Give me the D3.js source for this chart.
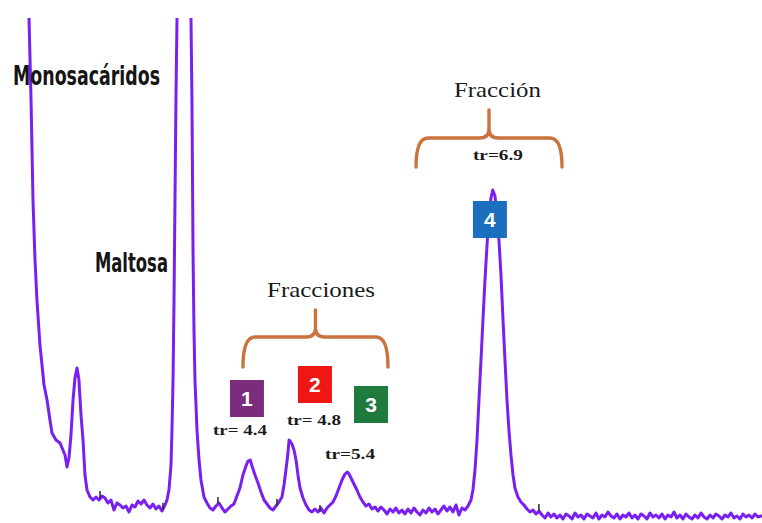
<!DOCTYPE html>
<html>
<head>
<meta charset="utf-8">
<script src="https://cdn.jsdelivr.net/npm/d3@7"></script>
<style>
  html, body { margin: 0; padding: 0; background: #ffffff; }
  svg { display: block; }
</style>
</head>
<body>
<svg id="chart" width="762" height="523"></svg>
<script>
// Chromatogram trace: retention time (min) and detector signal (mV)
const traceTime = [
  2.109, 2.119, 2.140, 2.160, 2.181, 2.201, 2.232, 2.274, 2.305, 2.335, 2.356, 2.397, 2.439, 2.469, 2.490, 2.511,
  2.531, 2.552, 2.573, 2.593, 2.614, 2.634, 2.655, 2.676, 2.696, 2.717, 2.748,
  2.779, 2.810, 2.841, 2.872, 2.902, 2.933, 2.964, 2.995, 3.026, 3.057, 3.088, 3.119, 3.150, 3.181, 3.212, 3.243,
  3.274, 3.305, 3.335, 3.366, 3.397, 3.428, 3.459, 3.490, 3.521,
  3.542, 3.562, 3.583, 3.593, 3.604, 3.614, 3.624, 3.634, 3.645, 3.655,
  3.779, 3.789, 3.799, 3.810, 3.820, 3.830, 3.851, 3.872, 3.892, 3.923, 3.954, 3.985, 4.016, 4.047, 4.078, 4.109,
  4.140, 4.171, 4.201, 4.232, 4.263, 4.294, 4.325, 4.356, 4.377, 4.400, 4.418, 4.449, 4.480, 4.511, 4.542, 4.573,
  4.603, 4.634, 4.665, 4.696, 4.727, 4.748, 4.768, 4.789, 4.800, 4.810, 4.830, 4.851, 4.872, 4.892, 4.913, 4.944,
  4.975, 5.006, 5.036, 5.067, 5.098, 5.129, 5.160, 5.191, 5.222, 5.253, 5.284, 5.315, 5.346, 5.377, 5.400, 5.418,
  5.439, 5.469, 5.500, 5.531, 5.562, 5.593,
  5.624, 5.655, 5.686, 5.717, 5.748, 5.779, 5.810, 5.841, 5.872, 5.902, 5.933, 5.964, 5.995, 6.026, 6.057, 6.088,
  6.119, 6.150, 6.181, 6.212, 6.243, 6.274, 6.305, 6.335, 6.366, 6.397, 6.428, 6.459, 6.490, 6.521, 6.552, 6.583,
  6.614, 6.645,
  6.676, 6.696, 6.717, 6.738, 6.758, 6.779, 6.799, 6.820, 6.841, 6.861, 6.882, 6.900, 6.923, 6.944, 6.964, 6.985,
  7.006, 7.026, 7.047, 7.067, 7.088, 7.109, 7.129, 7.160, 7.191, 7.222, 7.253,
  7.284, 7.315, 7.346, 7.377, 7.408, 7.439, 7.470, 7.500, 7.531, 7.562, 7.593, 7.624, 7.655, 7.686, 7.717, 7.748,
  7.779, 7.810, 7.841, 7.872, 7.903, 7.933, 7.964, 7.995, 8.026, 8.057, 8.088, 8.119, 8.150, 8.181, 8.212, 8.243,
  8.274, 8.305, 8.336, 8.366, 8.397, 8.428, 8.459, 8.490, 8.521, 8.552, 8.583, 8.614, 8.645, 8.676, 8.707, 8.738,
  8.769, 8.799, 8.830, 8.861, 8.892, 8.923, 8.954, 8.985, 9.016, 9.047, 9.078, 9.109, 9.140, 9.171, 9.201, 9.232,
  9.263, 9.294, 9.325, 9.356, 9.387, 9.418, 9.449, 9.480, 9.511, 9.542, 9.573, 9.604, 9.634, 9.665
];

const traceSignal = [
  108, 100.4, 84, 64, 52, 44, 35, 27, 24, 20, 17.4, 16, 15.4, 14, 13, 10.6,
  12.4, 17, 24, 28.4, 30.4, 28, 21, 16, 9, 6, 4.6,
  4, 4.6, 4, 4.8, 4.4, 3.4, 4, 2, 3.4, 3, 2.4, 2.8, 1.6, 3, 2.6, 3.8,
  3.2, 4, 3, 2.4, 3.2, 2.2, 2.8, 1.8, 3,
  4, 6, 11, 18, 28, 44, 64, 84, 100.4, 108,
  108, 100.4, 84, 54, 38, 28, 18, 12, 8, 4.6, 3.4, 2.4, 2, 2.8, 3.4, 2.4,
  1.6, 2.2, 2.8, 3.2, 4.8, 6.4, 9, 10.8, 11.8, 12, 10.8, 9, 7.4, 5.6, 4, 3.2,
  2.4, 2, 2.8, 3.6, 4.6, 7, 10, 13.4, 16, 15.8, 15.2, 14, 12, 9, 6.4, 4.4,
  3, 2, 1.6, 2.2, 1.6, 2.4, 1.4, 2.4, 3, 3.6, 4.8, 6.4, 8, 9.2, 9.6, 9.2,
  8.4, 7.2, 6, 4.6, 3.6, 2.8,
  3.2, 2.2, 2.6, 1.8, 2.6, 2, 1.2, 2.2, 1.6, 2.4, 1.4, 2, 1.2, 2.2, 1.4, 2.4,
  1.6, 1, 2, 1.4, 2.4, 1.6, 2.2, 1.2, 2, 2.8, 1.8, 2.6, 1.6, 3, 1, 2.4,
  2, 2.8,
  4, 6, 10, 16, 24, 32, 40, 48, 55, 61, 64.4, 66, 64.8, 61, 56, 49,
  40, 32, 24, 18, 13, 9, 6.4, 4.6, 3.6, 3, 2.2,
  1.6, 2.0, 1.2, 1.8, 1.0, 0.4, 1.4, 0.6, 1.2, 0.4, 1.0, 0.2, 1.2, 0.8, 0.2, 1.4,
  0.6, 1.0, 0.2, 1.2, 0.8, 0.4, 1.4, 0.2, 1.0, 0.6, 1.6, 0.8, 0.4, 1.2, 0.2, 1.0,
  0.6, 1.4, 0.4, 1.0, 0.2, 1.2, 0.8, 0.2, 1.4, 0.6, 1.0, 0.4, 1.2, 0.2, 1.0, 0.6,
  1.6, 0.4, 1.0, 0.2, 1.2, 0.6, 0.2, 1.0, 0.4, 1.4, 0.6, 0.2, 1.0, 0.4, 1.2, 0.8,
  0.2, 1.0, 0.6, 1.4, 0.4, 0.8, 0.2, 1.2, 0.6, 1.0, 0.4, 1.2, 0.6, 0.8
];

// Integration marks left on the baseline by the integrator
const markTime   = [2.851, 3.500, 4.067, 4.676, 5.119, 7.376];
const markSignal = [5.0, 2.6, 3.8, 3.4, 2.2, 2.4];

// Compound labels
const compoundNames = ["Monosacáridos", "Maltosa"];
const compoundTime  = [1.954, 2.799];
const compoundLevel = [87, 49.6];

// Numbered fractions: peak retention times
const fractionIds    = ["1", "2", "3", "4"];
const fractionTr     = [4.4, 4.8, 5.4, 6.9];
const fractionLabels = ["tr= 4.4", "tr= 4.8", "tr=5.4", "tr=6.9"];
const fractionBoxTime  = [4.366, 5.067, 5.645, 6.871];
const fractionBoxLevel = [28, 30.8, 26.8, 63.8];
const fractionLabelTime  = [4.016, 4.779, 5.171, 6.696];
const fractionLabelLevel = [17, 19, 12.2, 72];

// Brace groupings
const groupTitles    = ["Fracciones", "Fracción"];
const groupStart     = [4.325, 6.109];
const groupEnd       = [5.820, 7.614];
const groupBar       = [36.6, 76.4];
const groupTip       = [30.6, 70.6];
const groupPeak      = [42, 82];
const groupTitleTime = [4.573, 6.500];
const groupTitleLvl  = [44.6, 84.6];

const W = 762, H = 523;
const svg = d3.select("#chart");

const x = d3.scaleLinear().domain([1.82, 9.676]).range([0, W]);
const y = d3.scaleLinear().domain([0, 100]).range([520, 20]);

const boxColors = ["#7b2d7b", "#f01616", "#1f7a3e", "#1b6fbe"];
const braceColor = "#c9733f";
const traceColor = "#7a1ff2";

svg.append("rect").attr("width", W).attr("height", H).attr("fill", "#ffffff");

svg.append("defs").append("clipPath").attr("id", "plotClip")
  .append("rect").attr("x", 0).attr("y", y(100.4)).attr("width", W).attr("height", H);

const traceData = traceTime.map((t, i) => [t, traceSignal[i]]);

const line = d3.line().x(d => x(d[0])).y(d => y(d[1]));

svg.append("path")
  .datum(traceData)
  .attr("clip-path", "url(#plotClip)")
  .attr("d", line)
  .attr("fill", "none")
  .attr("stroke", traceColor)
  .attr("stroke-width", 3)
  .attr("stroke-linejoin", "round")
  .attr("stroke-linecap", "round");

// integration marks
svg.append("g").selectAll("line")
  .data(markTime.map((t, i) => [t, markSignal[i]]))
  .join("line")
  .attr("x1", d => x(d[0])).attr("x2", d => x(d[0]))
  .attr("y1", d => y(d[1]) - 4).attr("y2", d => y(d[1]) + 3)
  .attr("stroke", "#333")
  .attr("stroke-width", 1.6);

// compound labels
const cg = svg.append("g");
const compoundWidths = [147, 73];
compoundNames.forEach((name, i) => {
  cg.append("text")
    .attr("x", x(compoundTime[i]))
    .attr("y", y(compoundLevel[i]))
    .attr("font-family", "'Liberation Sans Narrow', 'Arial Narrow', 'DejaVu Sans Condensed', 'Liberation Sans', sans-serif")
    .attr("font-weight", "bold")
    .attr("font-size", 27)
    .attr("fill", "#151515")
    .attr("textLength", compoundWidths[i])
    .attr("lengthAdjust", "spacingAndGlyphs")
    .text(name);
});

// braces
function bracePath(x0, x1, xm, yBar, yTip, yPeak) {
  const r = 12, s = 9;
  return [
    "M", x0, yTip,
    "Q", x0, yBar, x0 + r, yBar,
    "L", xm - s, yBar,
    "Q", xm, yBar, xm, yBar - s,
    "L", xm, yPeak,
    "M", xm, yBar - s,
    "Q", xm, yBar, xm + s, yBar,
    "L", x1 - r, yBar,
    "Q", x1, yBar, x1, yTip
  ].join(" ");
}

const bg = svg.append("g");
const titleWidths = [108, 87];
groupTitles.forEach((title, i) => {
  const x0 = x(groupStart[i]), x1 = x(groupEnd[i]);
  bg.append("path")
    .attr("d", bracePath(x0, x1, (x0 + x1) / 2, y(groupBar[i]), y(groupTip[i]), y(groupPeak[i])))
    .attr("fill", "none")
    .attr("stroke", braceColor)
    .attr("stroke-width", 3.4)
    .attr("stroke-linecap", "round")
    .attr("stroke-linejoin", "round");
  bg.append("text")
    .attr("x", x(groupTitleTime[i]))
    .attr("y", y(groupTitleLvl[i]))
    .attr("font-family", "'Liberation Serif', 'Times New Roman', serif")
    .attr("font-size", 22)
    .attr("fill", "#1a1a1a")
    .attr("textLength", titleWidths[i])
    .attr("lengthAdjust", "spacingAndGlyphs")
    .text(title);
});

// fraction boxes and retention time labels
const fg = svg.append("g");
const boxW = 34, boxH = 37;
fractionIds.forEach((id, i) => {
  const cx = x(fractionBoxTime[i]);
  const top = y(fractionBoxLevel[i]);
  fg.append("rect")
    .attr("x", cx - boxW / 2).attr("y", top)
    .attr("width", boxW).attr("height", boxH)
    .attr("fill", boxColors[i]);
  fg.append("text")
    .attr("x", cx).attr("y", top + boxH / 2 + 7.5)
    .attr("text-anchor", "middle")
    .attr("font-family", "'Liberation Sans', Arial, sans-serif")
    .attr("font-weight", "bold")
    .attr("font-size", 21)
    .attr("fill", "#ffffff")
    .text(id);
  fg.append("text")
    .attr("x", x(fractionLabelTime[i]))
    .attr("y", y(fractionLabelLevel[i]))
    .attr("font-family", "'Liberation Serif', 'Times New Roman', serif")
    .attr("font-weight", "bold")
    .attr("font-size", 15)
    .attr("fill", "#1a1a1a")
    .attr("textLength", fractionLabels[i].includes(" ") ? 54 : 50)
    .attr("lengthAdjust", "spacingAndGlyphs")
    .text(fractionLabels[i]);
});
</script>
</body>
</html>
